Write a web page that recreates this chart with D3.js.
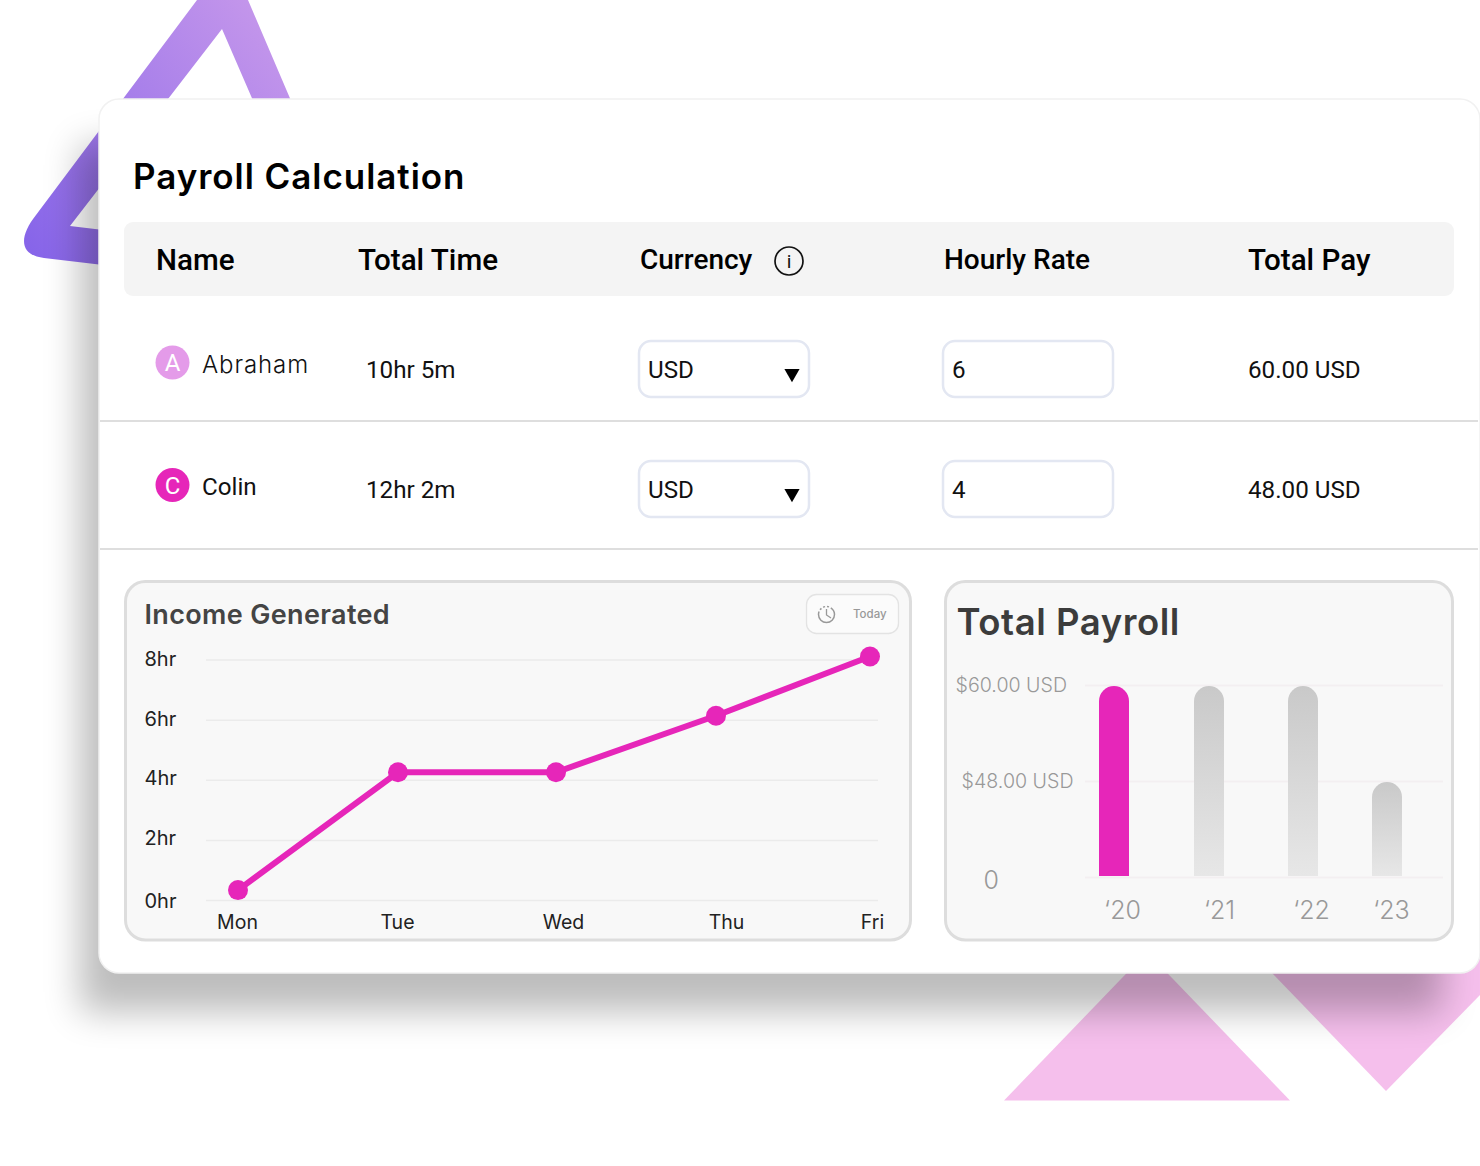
<!DOCTYPE html>
<html>
<head>
<meta charset="utf-8">
<title>Payroll Calculation</title>
<script src="https://cdn.jsdelivr.net/npm/d3@7"></script>
<style>
  html, body { margin: 0; padding: 0; background: #fff; overflow: hidden; }
  svg { display: block; }
  text { font-family: Roboto, sans-serif; }
  .work { font-family: Inter, sans-serif; }
</style>
</head>
<body>
<div id="chart"></div>
<script>
// table content
var tableHeaders = ["Name", "Total Time", "Currency", "Hourly Rate", "Total Pay"];
var people = ["Abraham", "Colin"];
var initials = ["A", "C"];
var totalTimes = ["10hr 5m", "12hr 2m"];
var currencies = ["USD", "USD"];
var hourlyRates = ["6", "4"];
var totalPays = ["60.00 USD", "48.00 USD"];

// income chart
var days = ["Mon", "Tue", "Wed", "Thu", "Fri"];
var incomeHours = [0.33, 4.25, 4.25, 6.13, 8.1];
var hourTicks = [0, 2, 4, 6, 8];

// payroll chart
var years = ["\u201820", "\u201821", "\u201822", "\u201823"];
var payrollValues = [60, 60, 60, 48];
var payTicks = [0, 48, 60];
var payTickLabels = ["0", "$48.00 USD", "$60.00 USD"];

var pink = "#e626b9";

var svg = d3.select("#chart").append("svg")
  .attr("width", 1480)
  .attr("height", 1166);

var defs = svg.append("defs");

var purpleGrad = defs.append("linearGradient")
  .attr("id", "purpleGrad")
  .attr("gradientUnits", "userSpaceOnUse")
  .attr("x1", 24).attr("y1", 240).attr("x2", 290).attr("y2", 40);
purpleGrad.append("stop").attr("offset", 0).attr("stop-color", "#8765e9");
purpleGrad.append("stop").attr("offset", 1).attr("stop-color", "#c597eb");

var barGrad = defs.append("linearGradient")
  .attr("id", "barGrad")
  .attr("x1", 0).attr("y1", 0).attr("x2", 0).attr("y2", 1);
barGrad.append("stop").attr("offset", 0).attr("stop-color", "#c9c9c9");
barGrad.append("stop").attr("offset", 1).attr("stop-color", "#e7e7e7");

defs.append("filter")
  .attr("id", "cardShadow")
  .attr("x", "-10%").attr("y", "-20%").attr("width", "120%").attr("height", "140%")
  .append("feGaussianBlur")
  .attr("stdDeviation", 18);

// background shapes
svg.append("path")
  .attr("fill", "url(#purpleGrad)")
  .attr("fill-rule", "evenodd")
  .attr("d", "M197,0 L36,215 C18,238 20,255 44,258 L120,267 L362,267 L248,0 Z M222,29 L70,226 L120,232 L310,232 Z");

svg.append("path")
  .attr("fill", "#f5bfec")
  .attr("d", "M1004,1100.5 L1147,952 L1290,1100.5 Z");

svg.append("path")
  .attr("fill", "#f5bfec")
  .attr("d", "M1272,973 L1386,1091 L1480,995 L1480,950 L1272,950 Z");

// shadow goes over the shapes so they darken under it
svg.append("rect")
  .attr("x", 80).attr("y", 145)
  .attr("width", 1362).attr("height", 867)
  .attr("fill", "#000")
  .attr("opacity", 0.26)
  .attr("filter", "url(#cardShadow)");

// card
svg.append("rect")
  .attr("x", 99).attr("y", 99)
  .attr("width", 1381).attr("height", 874)
  .attr("rx", 20)
  .attr("fill", "#fff")
  .attr("stroke", "#f1f1f1")
  .attr("stroke-width", 1.5);

svg.append("text")
  .attr("class", "work")
  .attr("x", 133).attr("y", 189)
  .attr("font-size", 35)
  .attr("font-weight", 600)
  .attr("letter-spacing", 0.95)
  .attr("fill", "#000")
  .text("Payroll Calculation");

// header bar
svg.append("rect")
  .attr("x", 124).attr("y", 222)
  .attr("width", 1330).attr("height", 74)
  .attr("rx", 9)
  .attr("fill", "#f4f4f4");

var headerX = [156, 358, 640, 944, 1248];
var headerY = [270, 270, 269, 269, 270];
var headerSize = [29.6, 29.6, 28, 28, 29.6];

svg.selectAll(".header")
  .data(tableHeaders)
  .enter()
  .append("text")
  .attr("class", "header")
  .attr("x", (d, i) => headerX[i])
  .attr("y", (d, i) => headerY[i])
  .attr("font-size", (d, i) => headerSize[i])
  .attr("font-weight", 500)
  .attr("fill", "#000")
  .text(d => d);

svg.append("circle")
  .attr("cx", 789).attr("cy", 261).attr("r", 14)
  .attr("fill", "none")
  .attr("stroke", "#111")
  .attr("stroke-width", 1.7);
svg.append("text")
  .attr("x", 789).attr("y", 268)
  .attr("text-anchor", "middle")
  .attr("font-size", 19)
  .attr("fill", "#111")
  .text("i");

// rows
var rowGap = 120;
var avatarColors = ["#e49be9", pink];
var avatarY = [362.5, 485];
var nameY = [373, 495];
var nameFont = ["Inter, sans-serif", "Roboto, sans-serif"];
var nameSize = [24, 24.2];
var nameWeight = [300, 400];
var nameSpacing = [0.9, 0];
var dividerY = [421, 549];

var rows = svg.selectAll(".row")
  .data(people)
  .enter()
  .append("g")
  .attr("class", "row");

rows.append("circle")
  .attr("cx", 172.5)
  .attr("cy", (d, i) => avatarY[i])
  .attr("r", 17)
  .attr("fill", (d, i) => avatarColors[i]);

rows.append("text")
  .attr("x", 172.5)
  .attr("y", (d, i) => avatarY[i] + 8.5)
  .attr("text-anchor", "middle")
  .attr("font-size", 24)
  .attr("fill", "#fff")
  .text((d, i) => initials[i]);

rows.append("text")
  .attr("x", 202)
  .attr("y", (d, i) => nameY[i])
  .style("font-family", (d, i) => nameFont[i])
  .attr("font-size", (d, i) => nameSize[i])
  .attr("font-weight", (d, i) => nameWeight[i])
  .attr("letter-spacing", (d, i) => nameSpacing[i])
  .attr("fill", "#111")
  .text(d => d);

function rowText(values, x) {
  rows.append("text")
    .attr("x", x)
    .attr("y", (d, i) => 378 + i * rowGap)
    .attr("font-size", 24.2)
    .attr("fill", "#111")
    .text((d, i) => values[i]);
}

function rowBox(x) {
  rows.append("rect")
    .attr("x", x)
    .attr("y", (d, i) => 341 + i * rowGap)
    .attr("width", 170).attr("height", 56)
    .attr("rx", 12)
    .attr("fill", "#fff")
    .attr("stroke", "#e3e7f2")
    .attr("stroke-width", 2.5);
}

rowBox(639);
rowBox(943);
rowText(totalTimes, 366);
rowText(currencies, 648);
rowText(hourlyRates, 952);
rowText(totalPays, 1248);

rows.append("path")
  .attr("fill", "#000")
  .attr("d", d3.symbol().type(d3.symbolTriangle).size(100))
  .attr("transform", (d, i) => `translate(792, ${373.5 + i * rowGap}) rotate(180)`);

svg.selectAll(".divider")
  .data(dividerY)
  .enter()
  .append("line")
  .attr("class", "divider")
  .attr("x1", 100).attr("x2", 1478)
  .attr("y1", d => d).attr("y2", d => d)
  .attr("stroke", "#dedede")
  .attr("stroke-width", 2);

// panels
function panel(x, width) {
  svg.append("rect")
    .attr("x", x).attr("y", 581.5)
    .attr("width", width).attr("height", 358.5)
    .attr("rx", 20)
    .attr("fill", "#f8f8f8")
    .attr("stroke", "#dddddd")
    .attr("stroke-width", 3);
}
panel(125.5, 785);
panel(945.5, 507);

// income generated
svg.append("text")
  .attr("class", "work")
  .attr("x", 144.5).attr("y", 624)
  .attr("font-size", 27)
  .attr("font-weight", 600)
  .attr("letter-spacing", 0.35)
  .attr("fill", "#444")
  .text("Income Generated");

svg.append("rect")
  .attr("x", 806.5).attr("y", 594.5)
  .attr("width", 92).attr("height", 39)
  .attr("rx", 10)
  .attr("fill", "#fbfbfb")
  .attr("stroke", "#e3e3e3")
  .attr("stroke-width", 1.3);
svg.append("circle")
  .attr("cx", 826.5).attr("cy", 614.5).attr("r", 8)
  .attr("fill", "none")
  .attr("stroke", "#999")
  .attr("stroke-width", 1.5)
  .attr("stroke-dasharray", "28 2 2 2 2 2 2 2");
svg.append("path")
  .attr("d", "M826.5,609 L826.5,615 L831,618")
  .attr("fill", "none")
  .attr("stroke", "#999")
  .attr("stroke-width", 1.3);
svg.append("text")
  .attr("class", "work")
  .attr("x", 853).attr("y", 617.5)
  .attr("font-size", 11.5)
  .attr("font-weight", 500)
  .attr("fill", "#999")
  .text("Today");

var xPoint = d3.scaleOrdinal()
  .domain(days)
  .range([238, 398, 556, 716, 870]);
var xLabel = d3.scaleOrdinal()
  .domain(days)
  .range([237, 397, 563, 726, 872]);
var yHours = d3.scaleLinear()
  .domain([0, 8])
  .range([900, 659.5]);

var hourAxis = d3.axisLeft(yHours)
  .tickValues(hourTicks)
  .tickSize(-672)
  .tickFormat(d => d + "hr");

var hourG = svg.append("g")
  .attr("transform", "translate(206, 0)")
  .call(hourAxis);
hourG.select(".domain").remove();
hourG.selectAll(".tick line").attr("stroke", "#ebebeb").attr("stroke-width", 1.5);
var hourLabelDy = [1, -2, -2, -1, 0];
hourG.selectAll(".tick text")
  .attr("class", "work")
  .attr("x", -61.5)
  .attr("y", (d, i) => hourLabelDy[i])
  .attr("text-anchor", "start")
  .attr("font-size", 20)
  .attr("fill", "#222");

var dayAxis = d3.axisBottom(xLabel).tickSize(0).tickPadding(15);
var dayG = svg.append("g")
  .attr("transform", "translate(0, 900)")
  .call(dayAxis);
dayG.select(".domain").remove();
dayG.selectAll(".tick text")
  .attr("class", "work")
  .attr("font-size", 19.5)
  .attr("fill", "#222");

var line = d3.line()
  .x((d, i) => xPoint(days[i]))
  .y(d => yHours(d));

svg.append("path")
  .datum(incomeHours)
  .attr("d", line)
  .attr("fill", "none")
  .attr("stroke", pink)
  .attr("stroke-width", 6);

svg.selectAll(".dot")
  .data(incomeHours)
  .enter()
  .append("circle")
  .attr("class", "dot")
  .attr("cx", (d, i) => xPoint(days[i]))
  .attr("cy", d => yHours(d))
  .attr("r", 10)
  .attr("fill", pink);

// total payroll
svg.append("text")
  .attr("class", "work")
  .attr("x", 956.5).attr("y", 635)
  .attr("font-size", 36.5)
  .attr("font-weight", 600)
  .attr("letter-spacing", 0.55)
  .attr("fill", "#3c3c3c")
  .text("Total Payroll");

// the axis in the picture is evenly spaced although the values are not
var yPay = d3.scaleLinear()
  .domain(payTicks)
  .range([877, 781, 685]);
var xBar = d3.scaleOrdinal()
  .domain(years)
  .range([1099, 1194, 1288, 1372]);
var xYear = d3.scaleOrdinal()
  .domain(years)
  .range([1122, 1219, 1311, 1391]);
var barWidth = 30;

var payG = svg.append("g")
  .attr("transform", "translate(1085, 0)")
  .call(d3.axisLeft(yPay)
    .tickValues(payTicks)
    .tickSize(-358)
    .tickFormat((d, i) => payTickLabels[i]));
payG.select(".domain").remove();
payG.selectAll(".tick line").attr("stroke", "#f3eff1").attr("stroke-width", 2);
var payLabelEnd = [-86, -11.5, -18];
var payLabelDy = [3, 0, 0];
payG.selectAll(".tick text")
  .attr("class", "work")
  .attr("x", (d, i) => payLabelEnd[i])
  .attr("y", (d, i) => payLabelDy[i])
  .attr("font-size", (d, i) => i == 0 ? 25 : 19.6)
  .attr("font-weight", 300)
  .attr("fill", "#999");

var yearG = svg.append("g")
  .attr("transform", "translate(0, 877)")
  .call(d3.axisBottom(xYear).tickSize(0).tickPadding(24));
yearG.select(".domain").remove();
yearG.selectAll(".tick text")
  .attr("class", "work")
  .attr("font-size", 25)
  .attr("font-weight", 300)
  .attr("fill", "#999");

function barPath(d, i) {
  var x0 = xBar(years[i]);
  var r = barWidth / 2;
  var top = yPay(d) + 1;
  var bottom = yPay(0) - 1;
  return `M${x0},${bottom} L${x0},${top + r} A${r},${r} 0 0 1 ${x0 + barWidth},${top + r} L${x0 + barWidth},${bottom} Z`;
}

svg.selectAll(".bar")
  .data(payrollValues)
  .enter()
  .append("path")
  .attr("class", "bar")
  .attr("d", barPath)
  .attr("fill", (d, i) => i == 0 ? pink : "url(#barGrad)");
</script>
</body>
</html>
